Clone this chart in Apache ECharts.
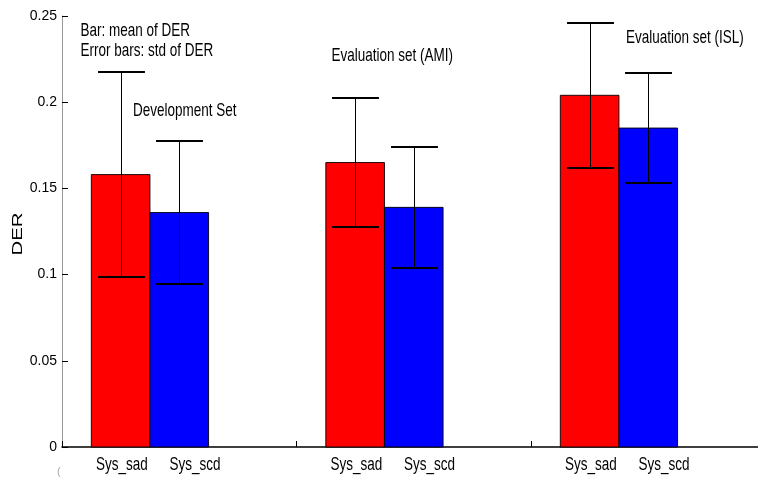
<!DOCTYPE html>
<html>
<head>
<meta charset="utf-8">
<script src="https://cdn.jsdelivr.net/npm/echarts@6/dist/echarts.min.js"></script>
<style>
  html, body { margin: 0; padding: 0; background: #fff; }
  #chart { width: 758px; height: 479px; }
</style>
</head>
<body>
<div id="chart"></div>
<script>
// Mean diarization error rate (DER) per system, with its standard deviation
const groupNames = ['Development Set', 'Evaluation set (AMI)', 'Evaluation set (ISL)'];
const systemNames = ['Sys_sad', 'Sys_scd'];
const meanSad = [0.158, 0.165, 0.204];
const meanScd = [0.136, 0.139, 0.185];
const stdSad = [0.0595, 0.0375, 0.042];
const stdScd = [0.0415, 0.035, 0.032];
const yTicks = [0, 0.05, 0.1, 0.15, 0.2, 0.25];

// layout constants (x axis: 1000 units per group)
const GROUP_UNIT = 1000;
const GROUP_OFFSET = 375;     // group centre inside its unit
const X_MAX = 2968;
const BAR_W = 250;            // width of one bar
const CAP_W = 200;            // width of an error bar cap
const FONT = '"Liberation Sans", Arial, sans-serif';
const TEXT_FONT = '13.5px ' + FONT;
const STRETCH = 1.38;         // tall, condensed lettering
const colors = ['#ff0000', '#0000ff'];
const labelShift = [-28, 45]; // px shift of the system labels from the group centre

function buildData(means, stds) {
  return means.map((m, i) => [i * GROUP_UNIT + GROUP_OFFSET, m, stds[i]]);
}

function tallText(x, y, text, align) {
  return {
    type: 'text', x: x, y: y, scaleY: STRETCH,
    style: { text: text, font: TEXT_FONT, fill: '#000', align: align || 'left', verticalAlign: 'middle' }
  };
}

function makeRender(sys) {
  return function (params, api) {
    const gx = api.value(0);
    const m = api.value(1);
    const s = api.value(2);
    const cx = gx + (sys === 0 ? -BAR_W / 2 : BAR_W / 2);
    const tl = api.coord([cx - BAR_W / 2, m]);
    const br = api.coord([cx + BAR_W / 2, 0]);
    const top = api.coord([cx, m + s]);
    const bot = api.coord([cx, m - s]);
    const capHalf = api.size([CAP_W, 0])[0] / 2;
    const x = Math.round(top[0]) + 0.5;
    const yT = Math.round(top[1]);
    const yB = Math.round(bot[1]);
    const base = api.coord([gx, 0]);
    return {
      type: 'group',
      children: [
        {
          type: 'rect',
          shape: { x: tl[0], y: tl[1], width: br[0] - tl[0], height: br[1] - tl[1] },
          style: { fill: colors[sys], stroke: '#000', lineWidth: 0.9 }
        },
        {
          type: 'polyline',
          shape: { points: [[x, yT], [x, yB]] },
          style: { stroke: '#000', lineWidth: 1 }
        },
        {
          type: 'polyline',
          shape: { points: [[x - capHalf, yT], [x + capHalf, yT]] },
          style: { stroke: '#000', lineWidth: 1.8 }
        },
        {
          type: 'polyline',
          shape: { points: [[x - capHalf, yB], [x + capHalf, yB]] },
          style: { stroke: '#000', lineWidth: 1.8 }
        },
        tallText(base[0] + labelShift[sys], base[1] + 18, systemNames[sys], 'center')
      ]
    };
  };
}

const chart = echarts.init(document.getElementById('chart'), null, { renderer: 'canvas' });
chart.setOption({
  animation: false,
  backgroundColor: '#fff',
  grid: { left: 62, right: 0, top: 16, bottom: 32, containLabel: false },
  xAxis: {
    type: 'value',
    min: 0,
    max: X_MAX,
    interval: GROUP_UNIT,
    axisLine: { show: true, lineStyle: { color: '#000', width: 1.5 } },
    axisTick: { show: true, inside: true, length: 6, lineStyle: { color: '#000' } },
    axisLabel: { show: false },
    splitLine: { show: false }
  },
  yAxis: {
    type: 'value',
    min: yTicks[0],
    max: yTicks[yTicks.length - 1],
    interval: yTicks[1] - yTicks[0],
    axisLine: { show: true, lineStyle: { color: '#999', width: 1 } },
    axisTick: { show: true, inside: true, length: 6, lineStyle: { color: '#000' } },
    axisLabel: { color: '#000', fontFamily: FONT, fontSize: 14, margin: 5 },
    splitLine: { show: false }
  },
  series: [
    { type: 'custom', name: systemNames[0], renderItem: makeRender(0), data: buildData(meanSad, stdSad), clip: false },
    { type: 'custom', name: systemNames[1], renderItem: makeRender(1), data: buildData(meanScd, stdScd), clip: false }
  ],
  graphic: [
    tallText(80.5, 31, 'Bar: mean of DER'),
    tallText(80.5, 51, 'Error bars: std of DER'),
    tallText(133, 111, groupNames[0]),
    tallText(331.5, 55.5, groupNames[1]),
    tallText(626, 38, groupNames[2]),
    // y axis title, drawn rotated
    {
      type: 'text', x: 17.5, y: 234, rotation: Math.PI / 2, scaleX: 1.35,
      style: { text: 'DER', font: '15px ' + FONT, fill: '#000', align: 'center', verticalAlign: 'middle' }
    },
    { type: 'text', x: 57, y: 472, style: { text: '(', font: '11px ' + FONT, fill: '#aaa', verticalAlign: 'middle' } }
  ]
});
</script>
</body>
</html>
